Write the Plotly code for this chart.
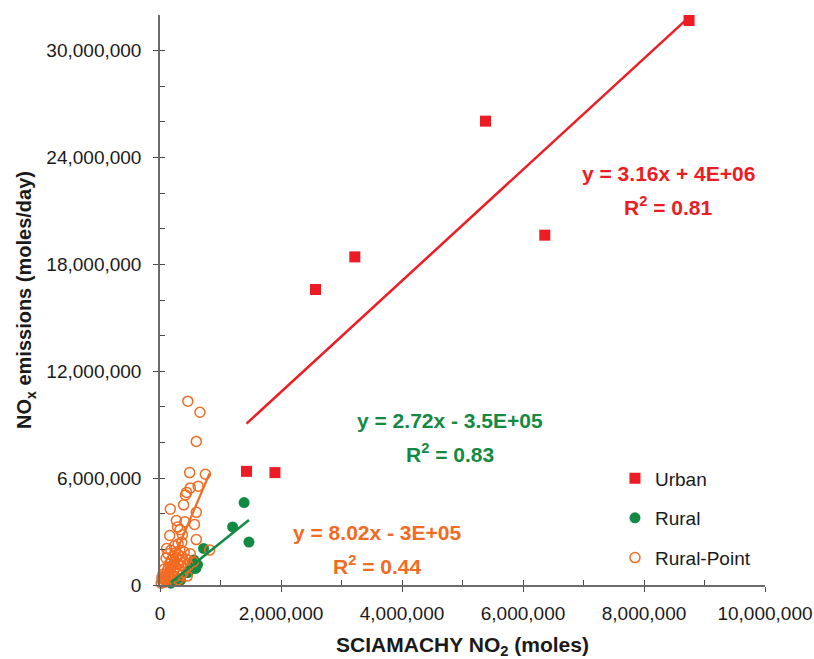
import numpy as np
import plotly.graph_objects as go

# ---- data (values in millions of moles) ----
SCALE = 1e6
series_names = ["Urban", "Rural", "Rural-Point"]

urban_x = [1.43, 1.90, 2.57, 3.22, 5.38, 6.36, 8.745]
urban_y = [6.38, 6.31, 16.59, 18.42, 26.04, 19.64, 31.69]

rural_x = [0.18, 0.34, 0.46, 0.50, 0.56, 0.59, 0.62, 0.72, 1.20, 1.39, 1.47]
rural_y = [0.10, 0.28, 0.69, 0.85, 1.40, 0.93, 1.15, 2.05, 3.26, 4.63, 2.41]

rp_x = [0.46, 0.66, 0.60, 0.49, 0.75, 0.50, 0.44, 0.42, 0.63, 0.39, 0.17, 0.60,
        0.27, 0.41, 0.29, 0.33, 0.57, 0.16, 0.37, 0.60, 0.36, 0.11, 0.82, 0.24,
        0.30,
        0.02, 0.04, 0.05, 0.06, 0.08, 0.09, 0.10, 0.11, 0.12, 0.13, 0.14, 0.15,
        0.16, 0.17, 0.18, 0.19, 0.20, 0.21, 0.22, 0.23, 0.24, 0.25, 0.26, 0.27,
        0.28, 0.29, 0.30, 0.31, 0.32, 0.33, 0.34, 0.35, 0.36, 0.38, 0.40, 0.42,
        0.44, 0.47, 0.50, 0.55, 0.10, 0.07, 0.05, 0.13, 0.18, 0.03, 0.24, 0.30,
        0.38, 0.45]
rp_y = [10.32, 9.70, 8.06, 6.31, 6.22, 5.45, 5.20, 5.05, 5.55, 4.50, 4.26, 4.08,
        3.62, 3.55, 3.25, 3.10, 3.40, 2.78, 2.82, 2.55, 2.40, 2.05, 1.96, 2.20,
        2.30,
        0.10, 0.22, 0.35, 0.15, 0.45, 0.30, 0.60, 0.20, 0.80, 0.50, 1.00, 0.70,
        1.20, 0.40, 0.95, 1.40, 0.60, 1.10, 1.60, 0.85, 1.30, 1.80, 1.00, 1.50,
        0.70, 1.20, 1.70, 0.90, 1.40, 1.95, 1.10, 0.55, 1.60, 1.25, 1.85, 0.95,
        1.45, 1.10, 1.75, 1.30, 1.50, 0.90, 0.60, 1.75, 1.95, 0.40, 0.45, 0.30,
        0.70, 0.50]

# trendline coefficients (slope, intercept in moles)
trend_slope = [3.12, 2.72, 8.02]
trend_intercept = [4.6e6, -3.5e5, -3.0e5]
trend_eq = ["y = 3.16x + 4E+06", "y = 2.72x - 3.5E+05", "y = 8.02x - 3E+05"]
trend_r2 = ["R<sup>2</sup> = 0.81", "R<sup>2</sup> = 0.83", "R<sup>2</sup> = 0.44"]
# label anchor positions (data units, millions): x, y of equation line, y of R2 line
label_x = [8.40, 4.80, 3.59]
label_y_eq = [23.12, 9.26, 2.92]
label_y_r2 = [21.27, 7.41, 1.12]

x_ticks = [0, 2e6, 4e6, 6e6, 8e6, 10e6]
y_ticks = [0, 6e6, 12e6, 18e6, 24e6, 30e6]

colors = ["#ED1C24", "#138A43", "#F26B22"]

FONT = "Liberation Sans, Arial, sans-serif"

xs = [np.array(urban_x) * SCALE, np.array(rural_x) * SCALE, np.array(rp_x) * SCALE]
ys = [np.array(urban_y) * SCALE, np.array(rural_y) * SCALE, np.array(rp_y) * SCALE]

fig = go.Figure()

markers = [
    dict(symbol="square", size=11, color=colors[0]),
    dict(symbol="circle", size=11, color=colors[1]),
    dict(symbol="circle-open", size=10, color=colors[2], line=dict(width=1.5, color=colors[2])),
]

for i in range(3):
    fig.add_trace(go.Scatter(
        x=xs[i], y=ys[i], mode="markers", name=series_names[i],
        marker=markers[i], cliponaxis=False, legendgroup=series_names[i],
    ))

for i in range(3):
    xl = np.array([xs[i].min(), xs[i].max()])
    yl = trend_slope[i] * xl + trend_intercept[i]
    fig.add_trace(go.Scatter(
        x=xl, y=yl, mode="lines", showlegend=False, hoverinfo="skip",
        line=dict(color=colors[i], width=2.5 if i < 2 else 2.2), cliponaxis=False,
    ))

# invisible trace for overlay axes (inner tick marks)
fig.add_trace(go.Scatter(x=[None], y=[None], xaxis="x2", yaxis="y2",
                         showlegend=False, hoverinfo="skip"))

for i in range(3):
    for txt, yy in ((trend_eq[i], label_y_eq[i]), (trend_r2[i], label_y_r2[i])):
        fig.add_annotation(x=label_x[i] * SCALE, y=yy * SCALE, text=txt,
                           showarrow=False, xanchor="center", yanchor="middle",
                           font=dict(family=FONT, size=21, color=colors[i], weight="bold"))

axis_common = dict(showline=True, linecolor="#6b6b6b", linewidth=1.5,
                   showgrid=False, zeroline=False, ticks="outside", ticklen=5,
                   tickwidth=1.3, tickcolor="#4a4a4a", automargin=False,
                   tickfont=dict(family=FONT, size=19, color="#1a1a1a"),
                   tickformat=",d")

fig.update_layout(
    width=814, height=659,
    margin=dict(l=160, r=49, t=15, b=74),
    paper_bgcolor="white", plot_bgcolor="white",
    font=dict(family=FONT),
    xaxis=dict(range=[0, 10e6], tickvals=x_ticks, ticklabelstandoff=5,
               title=dict(text="SCIAMACHY NO<sub>2</sub> (moles)",
                          font=dict(family=FONT, size=21, color="#1a1a1a", weight="bold"),
                          standoff=22),
               **axis_common),
    yaxis=dict(range=[0, 32e6], tickvals=y_ticks, ticklabelstandoff=8,
               title=dict(text="NO<sub>x</sub> emissions (moles/day)",
                          font=dict(family=FONT, size=20, color="#1a1a1a", weight="bold"),
                          standoff=9),
               **axis_common),
    xaxis2=dict(overlaying="x", anchor="y", range=[0, 10e6], dtick=1e6, tick0=0,
                ticks="inside", ticklen=5, tickwidth=1.3, tickcolor="#4a4a4a", automargin=False,
                showticklabels=False, showgrid=False, zeroline=False, showline=False),
    yaxis2=dict(overlaying="y", anchor="x", range=[0, 32e6], dtick=2e6, tick0=0,
                ticks="inside", ticklen=5, tickwidth=1.3, tickcolor="#4a4a4a", automargin=False,
                showticklabels=False, showgrid=False, zeroline=False, showline=False),
    legend=dict(x=0.752, y=0.2205, xanchor="left", yanchor="top",
                bgcolor="rgba(0,0,0,0)", tracegroupgap=12,
                font=dict(family=FONT, size=19, color="#1a1a1a")),
    showlegend=True,
)

# remove the default page margin so the 814x659 figure fills the window exactly
fig.write_html("out.html",
               config={"displayModeBar": False},
               post_script="document.body.style.margin='0px';"
                           "document.documentElement.style.overflow='hidden';")
